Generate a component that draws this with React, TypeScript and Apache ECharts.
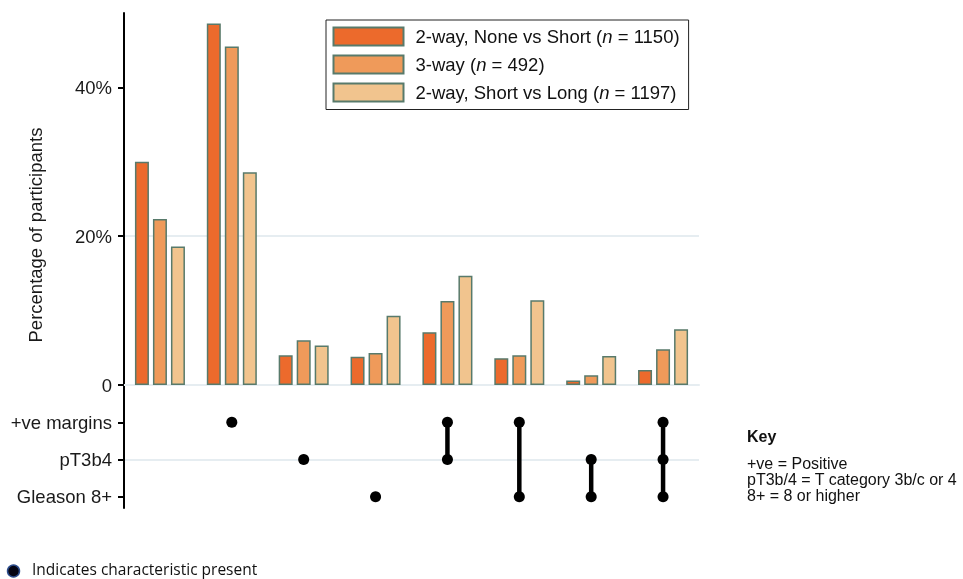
import React, { useEffect, useRef } from "react";
import * as echarts from "echarts";

const categories = [
  "None",
  "+ve margins",
  "pT3b4",
  "Gleason 8+",
  "+ve margins & pT3b4",
  "+ve margins & Gleason 8+",
  "pT3b4 & Gleason 8+",
  "All three",
];
const seriesNames = [
  "2-way, None vs Short (n = 1150)",
  "3-way (n = 492)",
  "2-way, Short vs Long (n = 1197)",
];
const noneVsShort = [30.0, 48.6, 4.0, 3.8, 7.1, 3.6, 0.6, 2.0];
const threeWay = [22.3, 45.5, 6.0, 4.3, 11.3, 4.0, 1.3, 4.8];
const shortVsLong = [18.6, 28.6, 5.3, 9.3, 14.7, 11.4, 3.9, 7.5];
const yTicks = [0, 20, 40];
const rowLabels = ["+ve margins", "pT3b4", "Gleason 8+"];
// which characteristic rows are present in each category
const setRows: number[][] = [[], [0], [1], [2], [0, 1], [0, 2], [1, 2], [0, 1, 2]];
const keyLines = ["+ve = Positive", "pT3b/4 = T category 3b/c or 4", "8+ = 8 or higher"];
const footnote = "Indicates characteristic present";

const colors = ["#EC6A2C", "#EF9A5A", "#F1C48E"];
const FONT = "'Liberation Sans', Arial, sans-serif";
const FS = 18.5;

export default function App() {
  const ref = useRef<HTMLDivElement>(null);
  useEffect(() => {
    if (!ref.current) return;
    const chart = echarts.init(ref.current, null, { renderer: "svg" });
    const dots: number[][] = [];
    const links: number[][] = [];
    setRows.forEach((rows, i) => {
      rows.forEach((r) => dots.push([i, r]));
      if (rows.length > 1) links.push([i, Math.min(...rows), Math.max(...rows)]);
    });
    const gridLine = { color: "#e6edf1", width: 2 };
    const values = [noneVsShort, threeWay, shortVsLong];
    chart.setOption({
      animation: false,
      grid: [
        { left: 124, top: 13, width: 575, height: 372 },
        { left: 124, top: 385, width: 575, height: 123 },
      ],
      legend: {
        orient: "vertical",
        left: 326,
        top: 20,
        icon: "rect",
        itemWidth: 70,
        itemHeight: 18,
        itemGap: 8,
        padding: [6.5, 9, 7, 6.5],
        borderColor: "#222",
        borderWidth: 1,
        data: seriesNames,
        formatter: (name: string) => name.replace("(n", "({i|n}"),
        textStyle: {
          fontSize: FS,
          lineHeight: 18,
          fontFamily: FONT,
          color: "#111",
          padding: [0, 0, 0, 7],
          rich: { i: { fontStyle: "italic", fontSize: FS, lineHeight: 18, fontFamily: FONT, color: "#111" } },
        },
      },
      xAxis: [
        {
          gridIndex: 0,
          type: "category",
          data: categories,
          axisLine: { lineStyle: gridLine },
          axisTick: { show: false },
          axisLabel: { show: false },
        },
        { gridIndex: 1, type: "category", data: categories, show: false },
      ],
      yAxis: [
        {
          gridIndex: 0,
          type: "value",
          min: 0,
          max: 50,
          interval: 20,
          axisLine: { show: true, lineStyle: { color: "#000", width: 2 } },
          axisTick: { show: true, length: 6, lineStyle: { color: "#000", width: 2 }, customValues: yTicks },
          axisLabel: {
            customValues: yTicks,
            formatter: (v: number) => (v === 0 ? "0" : v + "%"),
            fontSize: FS,
            fontFamily: FONT,
            color: "#1a1a1a",
            margin: 12,
          },
          splitLine: { show: true, showMinLine: false, showMaxLine: false, lineStyle: gridLine },
        },
        {
          gridIndex: 1,
          type: "value",
          inverse: true,
          min: -1,
          max: 2.3,
          interval: 1,
          axisLine: { show: true, lineStyle: { color: "#000", width: 2 } },
          axisTick: { show: true, length: 6, lineStyle: { color: "#000", width: 2 }, customValues: [0, 1, 2] },
          axisLabel: {
            customValues: [0, 1, 2],
            formatter: (v: number) => rowLabels[v] ?? "",
            fontSize: FS,
            fontFamily: FONT,
            color: "#1a1a1a",
            margin: 12,
          },
          splitLine: { show: true, showMinLine: false, showMaxLine: false, lineStyle: gridLine },
        },
      ],
      series: [
        ...values.map((d, i) => ({
          type: "bar",
          name: seriesNames[i],
          data: d,
          xAxisIndex: 0,
          yAxisIndex: 0,
          barWidth: 14,
          barGap: "28.6%",
          itemStyle: { color: colors[i], borderColor: "#587a6b", borderWidth: 1.5 },
        })),
        {
          type: "custom",
          xAxisIndex: 1,
          yAxisIndex: 1,
          z: 2,
          data: links,
          renderItem: (params: any, api: any) => {
            const p1 = api.coord([api.value(0), api.value(1)]);
            const p2 = api.coord([api.value(0), api.value(2)]);
            return {
              type: "line",
              shape: { x1: p1[0], y1: p1[1], x2: p2[0], y2: p2[1] },
              style: { stroke: "#000", lineWidth: 4.5 },
            };
          },
        },
        {
          type: "scatter",
          xAxisIndex: 1,
          yAxisIndex: 1,
          z: 3,
          data: dots,
          symbol: "circle",
          symbolSize: 11,
          itemStyle: { color: "#000", opacity: 1 },
        },
      ],
      graphic: [
        {
          type: "text",
          x: 35,
          y: 235,
          rotation: Math.PI / 2,
          style: {
            text: "Percentage of participants",
            font: `${FS}px ${FONT}`,
            fill: "#1a1a1a",
            align: "center",
            verticalAlign: "middle",
          },
        },
        {
          type: "text",
          x: 747,
          y: 436.5,
          style: { text: "Key", font: `bold 16px ${FONT}`, fill: "#111", verticalAlign: "middle" },
        },
        ...keyLines.map((t, i) => ({
          type: "text",
          x: 747,
          y: 463.7 + i * 16.1,
          style: { text: t, font: `16px ${FONT}`, fill: "#111", verticalAlign: "middle" },
        })),
        {
          type: "circle",
          shape: { cx: 13.5, cy: 571, r: 6 },
          style: { fill: "#050514", stroke: "#2d4d8c", lineWidth: 1.5 },
        },
        {
          type: "text",
          x: 32,
          y: 568.5,
          style: { text: footnote, font: `15.5px 'Open Sans', sans-serif`, fill: "#111", verticalAlign: "middle" },
        },
      ],
    });
    return () => chart.dispose();
  }, []);
  return <div ref={ref} style={{ position: "fixed", left: 0, top: 0, width: 963, height: 579 }} />;
}
